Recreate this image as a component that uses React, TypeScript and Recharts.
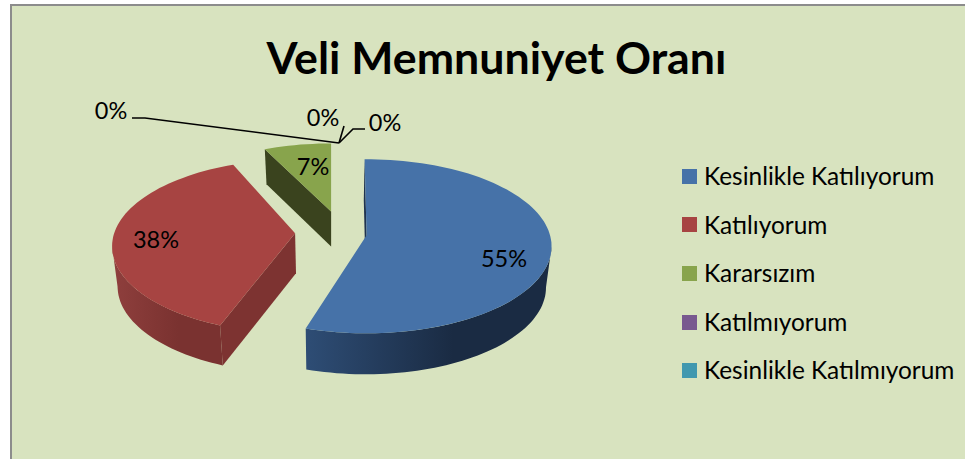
import { PieChart, Pie, Legend } from 'recharts';

const CATEGORIES = [
  'Kesinlikle Katılıyorum',
  'Katılıyorum',
  'Kararsızım',
  'Katılmıyorum',
  'Kesinlikle Katılmıyorum',
  '', // third 0% label in the picture has no legend row
];
const VALUES = [55, 38, 7, 0, 0, 0];
const COLORS = ['#4672a8', '#a74442', '#88a44c', '#78598f', '#4198af', '#d0873f'];
const TITLE = 'Veli Memnuniyet Oranı';

const tableData = CATEGORIES.map((name, i) => ({ name, value: VALUES[i], fill: COLORS[i] }));

const FONT = 'Lato, "Noto Sans", sans-serif';
const TILT = 87 / 185;
const EXPLODE = 36;

// fake 3D look per slice, excel draws these with perspective so the rims drift a bit
const LOOK = [
  { rimDx: 0, rimDy: 11, skewA: -0.6, skewB: 1.2, depth: 41, apexDx: 0, wall: ['#2e4d75', '#1a2b43'], cut: '#1f3350' },
  { rimDx: 2, rimDy: 13, skewA: 6.6, skewB: 5, depth: 40, apexDx: 0, wall: ['#8f3f3d', '#7a3230'], cut: '#7d3331' },
  { rimDx: 0, rimDy: 19, skewA: 4.2, skewB: 0, depth: 35, apexDx: 8, wall: ['#3a431e', '#3a431e'], cut: '#3a431e' },
];

// label anchors and leader lines, in picture pixels
const LABEL_SPOTS = [
  { x: 504, y: 258 },
  { x: 156, y: 239 },
  { x: 313, y: 166 },
  { x: 111, y: 110, line: '132,118 145,118 339,143' },
  { x: 323, y: 117, line: '344,126 339,143' },
  { x: 385, y: 122, line: '365,129 353,129 339,143' },
];

const rad = (d: number) => (d * Math.PI) / 180;

function Slice3D(props: any) {
  const { cx, cy, outerRadius, startAngle, endAngle, midAngle, fill, name } = props;
  const i = CATEGORIES.indexOf(name);
  if (Math.abs(startAngle - endAngle) < 0.01 || !LOOK[i]) return null;
  const look = LOOK[i];
  const rx = outerRadius;
  const ry = rx * TILT;

  // recharts angles to clockwise-from-top
  const a0 = 90 - startAngle + look.skewA;
  const a1 = 90 - endAngle + look.skewB;
  const mid = 90 - midAngle;
  const ax = cx + EXPLODE * Math.sin(rad(mid)) + look.apexDx;
  const ay = cy - EXPLODE * TILT * 1.245 * Math.cos(rad(mid));

  const rim = (t: number) => [
    ax + look.rimDx + rx * Math.sin(rad(t)),
    ay + look.rimDy - ry * Math.cos(rad(t)),
  ];
  const low = (p: number[]) => [cx + (p[0] - cx) * 0.975, p[1] + look.depth];
  const arc = (from: number, to: number) => {
    const out: number[][] = [];
    const n = Math.max(2, Math.ceil(Math.abs(to - from) / 2));
    for (let k = 0; k <= n; k++) out.push(rim(from + ((to - from) * k) / n));
    return out;
  };
  const d = (pts: number[][]) =>
    'M' + pts.map((p) => `${p[0].toFixed(1)},${p[1].toFixed(1)}`).join('L') + 'Z';

  const apex = [ax, ay];
  const top = [apex, ...arc(a0, a1)];
  const cut = [apex, rim(a0), low(rim(a0)), low(apex)];
  const from = Math.max(a0, 90);
  const to = Math.min(a1, 270);
  const frontArc = from < to ? arc(from, to) : [];
  const front = [...frontArc, ...frontArc.map(low).reverse()];
  const gradId = `wall-${i}`;

  return (
    <g>
      <defs>
        <linearGradient id={gradId} x1="0" y1="0" x2="1" y2="0">
          <stop offset="0%" stopColor={look.wall[0]} />
          <stop offset="60%" stopColor={look.wall[1]} />
          <stop offset="100%" stopColor={look.wall[1]} />
        </linearGradient>
      </defs>
      <path d={d(cut)} fill={look.cut} />
      {front.length > 0 && <path d={d(front)} fill={`url(#${gradId})`} />}
      <path d={d(top)} fill={fill} />
    </g>
  );
}

function SliceLabel(props: any) {
  const spot = LABEL_SPOTS[props.index];
  if (!spot) return null;
  return (
    <g>
      {spot.line && <polyline points={spot.line} fill="none" stroke="#000" strokeWidth={1.6} />}
      <text
        x={spot.x}
        y={spot.y}
        textAnchor="middle"
        dominantBaseline="central"
        fontFamily={FONT}
        fontSize={23.5}
        fill="#000"
      >
        {props.value}%
      </text>
    </g>
  );
}

function LegendRows() {
  return (
    <div style={{ fontFamily: FONT, fontSize: 24.4, color: '#000', lineHeight: '48.6px' }}>
      {CATEGORIES.filter((c) => c !== '').map((c, i) => (
        <div key={c} style={{ display: 'flex', alignItems: 'center', height: 48.6, whiteSpace: 'nowrap' }}>
          <span style={{ width: 15, height: 15, background: COLORS[i], marginRight: 7, flex: 'none' }} />
          {c}
        </div>
      ))}
    </div>
  );
}

export default function App() {
  return (
    <div style={{ position: 'absolute', left: 0, top: 0, width: 965, height: 459, background: '#fff', overflow: 'hidden' }}>
      <div
        style={{
          position: 'absolute',
          left: 10,
          top: 4,
          width: 955,
          height: 453,
          background: '#d8e3bf',
          borderLeft: '2px solid #8c8c8c',
          borderTop: '2px solid #8c8c8c',
          borderBottom: '2px solid #a3aa92',
        }}
      />
      <div style={{ position: 'absolute', left: 0, top: 0 }}>
        <PieChart width={965} height={459} margin={{ top: 0, right: 0, bottom: 0, left: 0 }}>
          <text
            x={496.5}
            y={57}
            textAnchor="middle"
            dominantBaseline="central"
            fontFamily={FONT}
            fontWeight={700}
            fontSize={44.7}
            fill="#000"
          >
            {TITLE}
          </text>
          <Pie
            data={tableData}
            dataKey="value"
            nameKey="name"
            cx={331}
            cy={232}
            outerRadius={185}
            startAngle={90}
            endAngle={-270}
            stroke="none"
            isAnimationActive={false}
            shape={Slice3D}
            label={SliceLabel}
            labelLine={false}
          />
          <Legend
            layout="vertical"
            content={LegendRows}
            wrapperStyle={{ position: 'absolute', left: 682, top: 152, width: 283, bottom: 'auto', right: 'auto' }}
          />
        </PieChart>
      </div>
    </div>
  );
}
